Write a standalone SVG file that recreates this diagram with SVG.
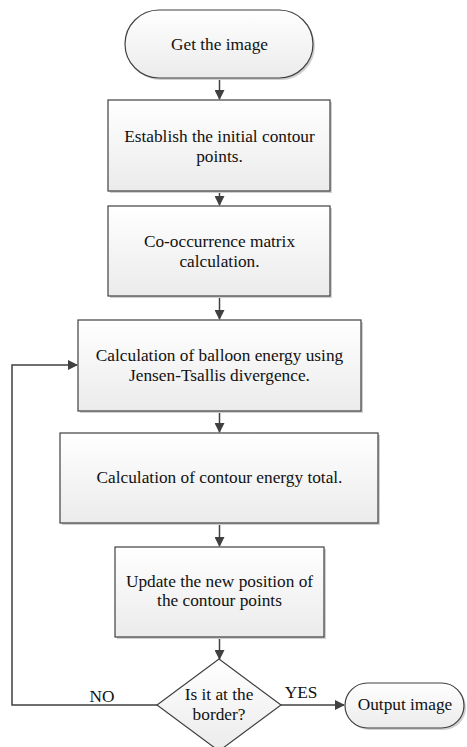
<svg xmlns="http://www.w3.org/2000/svg" width="467" height="747" viewBox="0 0 467 747">
<defs>
<linearGradient id="g" x1="0" y1="0" x2="0" y2="1">
<stop offset="0" stop-color="#ffffff"/>
<stop offset="1" stop-color="#ebebeb"/>
</linearGradient>
<marker id="ah" markerWidth="10" markerHeight="10" refX="9" refY="5" orient="auto" markerUnits="userSpaceOnUse">
<path d="M0,0 L10,5 L0,10 Z" fill="#404040"/>
</marker>
</defs>
<style>
.s{fill:#d0d0d0;stroke:none}
.n{fill:url(#g);stroke:#404040;stroke-width:1.2}
.c{fill:none;stroke:#404040;stroke-width:1.5}
.t{font-family:'Liberation Serif','Times New Roman',serif;font-size:17.3px;fill:#111;text-anchor:middle}
</style>
<g id="connectors">
<line class="c" x1="219.5" y1="78" x2="219.5" y2="99" marker-end="url(#ah)"/>
<line class="c" x1="219.5" y1="191" x2="219.5" y2="205" marker-end="url(#ah)"/>
<line class="c" x1="219.5" y1="296" x2="219.5" y2="319" marker-end="url(#ah)"/>
<line class="c" x1="219.5" y1="411" x2="219.5" y2="432" marker-end="url(#ah)"/>
<line class="c" x1="219.5" y1="523" x2="219.5" y2="546" marker-end="url(#ah)"/>
<line class="c" x1="219.5" y1="637" x2="219.5" y2="659" marker-end="url(#ah)"/>
<polyline class="c" points="157,705 12,705 12,365 77,365" marker-end="url(#ah)"/>
<line class="c" x1="281" y1="705" x2="344" y2="705" marker-end="url(#ah)"/>
<text class="t" x="102" y="702" font-family="Liberation Serif, serif">NO</text>
<text class="t" x="301" y="698" font-family="Liberation Serif, serif">YES</text>
</g>
<g id="start">
<rect class="s" x="127" y="12" width="188" height="68" rx="34"/>
<rect class="n" x="125" y="10" width="188" height="68" rx="34"/>
<text class="t" x="219.5" y="50" font-family="Liberation Serif, serif">Get the image</text>
</g>
<g id="step1">
<rect class="s" x="110" y="102" width="222" height="91"/>
<rect class="n" x="108" y="100" width="222" height="91"/>
<text class="t" x="219.5" y="142" font-family="Liberation Serif, serif">Establish the initial contour</text>
<text class="t" x="219.5" y="162" font-family="Liberation Serif, serif">points.</text>
</g>
<g id="step2">
<rect class="s" x="110" y="208" width="222" height="90"/>
<rect class="n" x="108" y="206" width="222" height="90"/>
<text class="t" x="219.5" y="247" font-family="Liberation Serif, serif">Co-occurrence matrix</text>
<text class="t" x="219.5" y="267" font-family="Liberation Serif, serif">calculation.</text>
</g>
<g id="step3">
<rect class="s" x="80" y="322" width="283" height="91"/>
<rect class="n" x="78" y="320" width="283" height="91"/>
<text class="t" x="219.5" y="361" font-family="Liberation Serif, serif">Calculation of balloon energy using</text>
<text class="t" x="219.5" y="381" font-family="Liberation Serif, serif">Jensen-Tsallis divergence.</text>
</g>
<g id="step4">
<rect class="s" x="62" y="435" width="318" height="90"/>
<rect class="n" x="60" y="433" width="318" height="90"/>
<text class="t" x="219.5" y="483" font-family="Liberation Serif, serif">Calculation of contour energy total.</text>
</g>
<g id="step5">
<rect class="s" x="117" y="549" width="209" height="90"/>
<rect class="n" x="115" y="547" width="209" height="90"/>
<text class="t" x="219.5" y="587" font-family="Liberation Serif, serif">Update the new position of</text>
<text class="t" x="219.5" y="606" font-family="Liberation Serif, serif">the contour points</text>
</g>
<g id="decision">
<polygon class="n" points="219,659 281,705 219,751 157,705"/>
<text class="t" x="219" y="700" font-family="Liberation Serif, serif">Is it at the</text>
<text class="t" x="219" y="720" font-family="Liberation Serif, serif">border?</text>
</g>
<g id="end">
<rect class="s" x="347" y="685" width="119" height="45" rx="22.5"/>
<rect class="n" x="345" y="683" width="119" height="45" rx="22.5"/>
<text class="t" x="405" y="710" font-family="Liberation Serif, serif">Output image</text>
</g>
</svg>
